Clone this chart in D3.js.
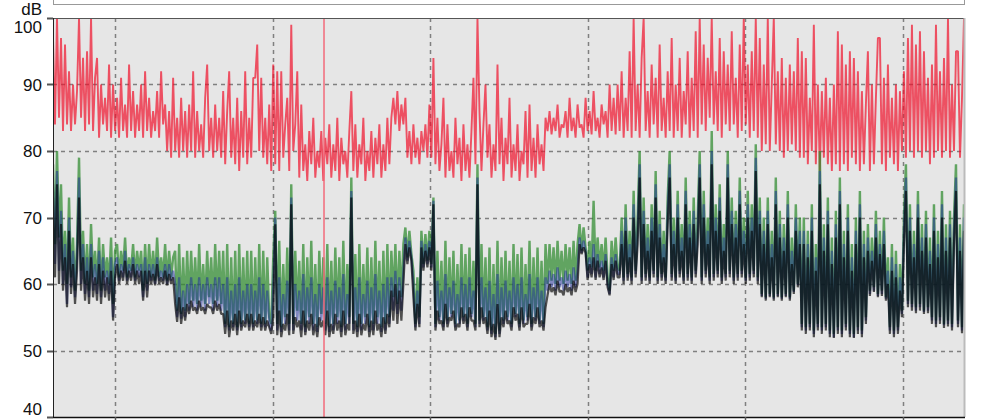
<!DOCTYPE html>
<html><head><meta charset="utf-8">
<script src="https://cdn.jsdelivr.net/npm/d3@7"></script>
<style>body{margin:0;background:#fff}svg{display:block}text{font-family:"Liberation Sans",Arial,Helvetica,sans-serif}</style>
</head><body><svg id="c" width="1000" height="420"></svg>
<script>
const yTicks=[100,90,80,70,60,50,40];
const yUnit="dB";
const hourTicks=[1,2,3,4,5,6];
const timeStart=0.6065, timeEnd=6.3867;
const cursorTime=2.326;

const maxLevel=[97,84,100,85,97,83,96,84,92,83,90,84,89,100,85,94,83,95,84,100,83,91,94,82,90,84,88,83,93,82,90,83,
88,82,91,83,87,82,93,83,89,82,87,83,90,82,92,83,88,82,86,83,89,82,92,84,87,
80,86,79,91,80,85,79,88,80,86,79,87,80,92,79,86,80,84,79,88,93,80,85,79,87,80,85,79,89,78,86,92,79,85,78,88,77,86,79,92,78,85,79,91,91,96,80,91,79,85,78,87,
77,93,78,92,77,92,79,84,88,77,99,
80,84,92,76,87,77,81,75.5,83,78,85,76,80,77.5,83,75.5,82,78,84,76,81,77,85,75.5,82,78,80,76,83,89,77,84,76,81,78,85,75.5,80,77,83,76,82,78,84,76,81,77,85,78,
85,88,84,89,83,87,84,88,
79,83,78,84,79,82,78,83,80,84,79,
87,79,94,78,85,77,81,88,76,84,77,80,76,85,78,82,75.5,84,77,81,76,83,91,78,100,86,77,84,90,79,84,76,81,77,93,78,85,75.5,82,78,88,76,81,77,84,75.5,80,78,86,76,87,77,82,76,84,78,81,77,85,
83,86,82.5,85,83,87,82,84,83.5,86,82,88,83,85,82,87,83.5,84,82,88,83,86,82.5,89,83,85,82,87,84,86,82,90,83,88,82.5,90,83,
92,82,88,83,95,82,100,83,90,82,94,100,83,89,82,93,84,91,82,96,83,88,82,92,83,97,82,90,83,94,82,89,84,95,82,91,83,98,82,100,
84,96,83,94,85,100,84,92,83,97,82,95,84,93,83,98,84,91,82,96,83,100,84,93,82,95,83,100,82,97,
80,93,81,100,80,90,100,81,92,80,94,79,91,80,93,81,92,80,97,79,
95,79,94,78,88,80,99,78,90,77,89,79,91,78,88,77,90,78,98,77,96,78,93,77,95,79,94,78,92,77,89,78,87,95,77,90,78,88,97,97,78,91,77,93,79,88,78,90,77,89,80,
92,79,97,80,99,79,96,80,98,79,95,80,91,78,93,79,99,80,92,79,94,80,100,79,90,80,95,95,79,88,100];

const l10Level=[78,66,80,67,75,
62,68,60,73,61,67,59,66,79,62,68,60,66,59,69,61,65,60,67,59,66,61,64,60,67,57,65,
66,61,65,62,67,61,64,62,66,61,65,62,
65,59,66,60,
66,61,65,60.5,67,61,64,61,66,60.5,65,61,64,
65,56,66,55.5,64,56,65,
57,65,57.5,64,57,66,57.5,63,57,65,58,64,57,66,57.5,65,57,
65,54,66,53.5,64,54,65,53.5,66,54,64,54.5,65,54,
65,54,64,54.5,66,54,65,54,64,55,
54,64,71,54,66.5,53.5,63,55,65.5,54,75,54,65,56,63.5,54,66,53.5,64,55,66.5,54,63,53.5,65,55.5,64,54,66,53.5,63.5,54,65.5,55,64,53.5,66.5,54,63,55,76,54,64.5,53.5,66,54,63,55,65.5,53.5,64,54,66.5,55,63.5,53.5,65,54,66,55,
65,58,66,57,65,58,66,68.5,64,68,64.5,62,54,61,55,68,63,67.5,63.5,68,63,73,
54,65,55,63.5,54,66.5,54.5,64,55.5,65,54,63,54.5,66,55,64.5,54,65.5,55.5,63.5,54,78,54.5,66,55,64,53.5,65.5,53,63,52.5,66.5,53,64,54.5,65,55,63.5,54,66,55.5,64.5,54,65.5,54.5,63,55,66.5,54,64,55,65.5,54.5,63.5,54,66,
60,66,60.5,65.5,60,66.5,60.5,65,60,66,60.5,65.5,60,66.5,60.5,66,
69,65,68.5,65.5,
62,66.5,62.5,72.5,62,67,62.5,66,62,67,61,59,66.5,62,67,62.5,
62,70,61,72,61.5,68,61,74,62,70,80,61,73,61.5,69,61,72,62,77,61,71,61.5,68,61,73,80,61.5,70,61,74,62,69,61,76,61.5,71,61,73,62,70,80,
61,74,62,70,61,83,61.5,72,62,75,61,69,61.5,80,62,73,61,71,61.5,76,62,70,61,74,61.5,72,62,81,61,73,
58.5,70,58,73,58.5,68,58,76,58.5,71,58,69,58.5,74,58,67,59,72,60,70,
54,70,53.5,68,54,72,53,66,54,80,53.5,69,54,73,53,67,52.5,71,53.5,76,53,68,54,72,53,66,52.5,70,53.5,74,53,68,55,
69,59,67,59.5,71,58.5,68,59,70,58,
64,53.5,66,53,65,53.5,63,56,
70,78,57.5,72,57,68,56.5,74,57,69,56,71,56.5,67,
55,72,54.5,68,55,74,54,69,54.5,71,
54,70,78,54.5,69,53.5,72];

const eqLevel=[75,63,77,62,71,
60,66,57,70,59.5,65,58,64,76,60,66,58.5,64,58,66,59,63,58.5,65,58,64,59,62,58.5,64,55,63,
64,60.5,63,61,65,60.5,63,61,64,60.5,63,61,
63,58,64,59,
63,60.5,63,60,64,60.5,62,60.5,63,60,63,60.5,62,
60,55,61,54.8,59,55,60,
56,61,56.5,60,56,61,56.5,60,56,61,57,60,56,61,56.5,61,56,
60,53.5,61,53,59,53.5,60,53,61,53.5,59,54,60,53.5,
60,53.5,59,54,61,53.5,60,53.5,59,54,
53,59.5,70,53,61,52.8,58.5,54,60.5,53,73,53,60,54.5,59,53,61.5,52.8,59.5,54,61,53,58.5,52.8,60,54.5,59.5,53,61,52.8,59,53,60.5,54,59.5,52.8,61.5,53,58.5,54,74,53,59.5,52.8,61,53,58.5,54,60.5,52.8,59.5,53,61.5,54,59,52.8,60,53,61,54,
61,56,62,55.5,61,56,62,67,63.5,66.5,64,60,53.5,59,54,66.5,62.5,66,63,66.5,62.5,72.5,
53.5,60.5,54.5,59,53.5,61.5,54,59.5,55,60.5,53.5,58.5,54,61,54.5,60,53.5,61,55,59,53.5,76,54,61,54.5,59.5,53,60.5,52.5,58.5,52,61.5,52.5,59.5,54,60.5,54.5,59,53.5,61,55,60,53.5,61,54,58.5,54.5,61.5,53.5,59.5,54.5,61,54,59,53.5,61,
59,62,59.5,61.5,59,62.5,59.5,61,59,62,59.5,61.5,59,62.5,59.5,62,
67,64.7,66.5,65,
61,64,61.5,66,61,64.5,61.5,63.5,61,64.5,60,58.5,64,61,64.5,61.5,
61.5,68,60.5,70,61,66,60.5,72,61.5,68,78,60.5,71,61,67,60.5,70,61.5,75,60.5,69,61,66,60.5,71,78,61,68,60.5,72,61.5,67,60.5,74,61,69,60.5,71,61.5,68,78,
60.5,72,61.5,68,60.5,80,61,70,61.5,73,60.5,67,61,78,61.5,71,60.5,69,61,74,61.5,68,60.5,72,61,70,61.5,79,60.5,71,
58.2,68,57.8,71,58.2,66,57.8,74,58.2,69,57.8,67,58.2,72,57.8,65,58.8,70,59.8,68,
53.5,68,53,66,53.5,70,52.5,64,53.5,77,53,67,53.5,71,52.5,65,52,69,53,74,52.5,66,53.5,70,52.5,64,52,68,53,72,52.5,66,54.5,
67,58.5,65,59,69,58.2,66,58.5,68,57.8,
62,53,64,52.5,63,53,61,55.5,
68,76,57,70,56.5,66,56,72,56.5,67,55.8,69,56,65,
54.5,70,54,66,54.5,72,53.8,67,54,69,
53.5,68,76,54,67,53,70];

const minLevel=[73,61,75,60,69,
59,64,56.5,68,58.5,63,57,62,73,59,64,57.5,62,57,64,58,61,57.5,63,57,62,58,61,57.5,62,54.5,61,
63,60,62,60.5,63.5,60,62,60.5,63,60,62,60,
62,57.5,62,58,
62,60,61.5,59.8,63,60,61,60,62,59.8,61.5,60,61,
57,54.3,58,54,56.5,54.5,57,
55.5,57.5,56,56.5,55.5,57.5,56,56.5,55.5,57,56.5,56.5,55.5,57.5,56,57,55.5,
55.5,52.5,56,52,54.5,53,55.5,52.3,56,53,54.5,53.5,55.5,53,
55.5,53,54.5,53.5,55.5,53,55,53,54.5,53.5,
52.5,55,69,52.3,56,52,54,53,55.5,52.3,72,52.5,55,53.5,54.5,52,56,52.3,54.5,53,55.5,52.3,54,52,55,53.5,54.5,52.3,56,52,54,52.5,55.5,53,54.5,52,56,52.3,54,53,73,52.5,54.5,52,55.5,52.3,54,53,55.5,52,54.5,52.3,56,53,54,52,55,52.5,55.5,53.5,
59,54.5,60,54,59,54.5,60,66,63,65.5,63.5,58,53,57,53.5,65.5,62,65,62.5,65.5,62,72,
53,56,54,54.5,53,57,53.5,55,54.5,56,53,54,53.5,56.5,54,55.5,53,56.5,54.5,54.5,53,75,53.5,56.5,54,55,52.5,56,52,54,51.6,57,52,55,53.5,56,54,54.5,53,56.5,54.5,55.5,53,56.5,53.5,54,54,57,53,55,54,56.5,53.5,54.5,53,56.5,
58.3,60,58.8,59.5,58.3,60.5,58.8,59,58.3,60,58.8,59.5,58.3,60.5,58.8,60,
66,64.5,65.5,64.7,
60.6,63,61,64,60.6,63.5,61,62.5,60.6,63.5,59.5,58.3,63,60.6,63.5,61,
61,66,60,68,60.5,64,60,70,61,66,76,60,69,60.5,65,60,68,61,73,60,67,60.5,64,60,69,76,60.5,66,60,70,61,65,60,72,60.5,67,60,69,61,66,76,
60,70,61,66,60,78,60.5,68,61,71,60,65,60.5,76,61,69,60,67,60.5,72,61,66,60,70,60.5,68,61,77,60,69,
58,66,57.5,69,58,64,57.5,72,58,67,57.5,65,58,70,57.5,63,58.5,68,59.5,66,
53,66,52.5,64,53,68,52,62,53,75,52.5,65,53,69,52,63,51.9,67,52.5,72,52,64,53,68,52,62,51.9,66,52.5,70,52,64,54,
65,58.2,63.5,58.8,67,58,64.5,58.2,66,57.5,
60,52.5,62,52,61,52.5,59,55,
66,74,56.5,68,56,64,55.6,70,56,65,55.5,67,55.6,63,
54,68,53.5,64,54,70,53.4,65,53.6,67,
53,66,74,53.5,65,52.6,68];

const seriesStyles=[
  {data:maxLevel, color:"#f0102a", opacity:0.7, width:1.9},
  {data:l10Level, color:"#2e8b2e", opacity:0.72, width:2.4},
  {data:eqLevel,  color:"#1a2a9a", opacity:0.5, width:2.3},
  {data:minLevel, color:"#000000", opacity:0.66, width:2.2}
];

const L=53, R=964, T=18, B=417;
const svg=d3.select("#c");
const x=d3.scaleLinear().domain([timeStart,timeEnd]).range([L,R]);
const y=d3.scaleLinear().domain([40,100]).range([B,T]);

svg.append("rect").attr("x",L+0.5).attr("y",-6).attr("width",R-L).attr("height",10.5)
  .attr("fill","#fff").attr("stroke","#999").attr("stroke-width",1);

svg.append("rect").attr("x",L).attr("y",T).attr("width",R-L).attr("height",B-T).attr("fill","#e6e6e6");

svg.append("g").selectAll("line").data(yTicks.filter(v=>v>40&&v<100)).join("line")
  .attr("x1",L).attr("x2",R).attr("y1",d=>Math.round(y(d))+0.5).attr("y2",d=>Math.round(y(d))+0.5)
  .attr("stroke","#808080").attr("stroke-width",1.5).attr("stroke-dasharray","4,4");
svg.append("g").selectAll("line").data(hourTicks).join("line")
  .attr("x1",d=>Math.round(x(d))+0.5).attr("x2",d=>Math.round(x(d))+0.5).attr("y1",T).attr("y2",B)
  .attr("stroke","#808080").attr("stroke-width",1.5).attr("stroke-dasharray","4,4");

svg.append("clipPath").attr("id","pc").append("rect").attr("x",L).attr("y",T).attr("width",R-L).attr("height",B-T);
const gS=svg.append("g").attr("clip-path","url(#pc)");
seriesStyles.forEach(s=>{
  const n=s.data.length;
  const line=d3.line().x((d,i)=>x(timeStart+i*(timeEnd-timeStart)/(n-1))).y(d=>y(d));
  gS.append("path").attr("d",line(s.data)).attr("fill","none")
    .attr("stroke",s.color).attr("stroke-opacity",s.opacity).attr("stroke-width",s.width)
    .attr("stroke-linejoin","bevel");
});

svg.append("line").attr("x1",x(cursorTime)).attr("x2",x(cursorTime)).attr("y1",T).attr("y2",B)
  .attr("stroke","#f26a7a").attr("stroke-width",1.5);

svg.append("line").attr("x1",L).attr("x2",R).attr("y1",T+0.5).attr("y2",T+0.5).attr("stroke","#555").attr("stroke-width",1);
svg.append("line").attr("x1",R+0.5).attr("x2",R+0.5).attr("y1",T).attr("y2",B).attr("stroke","#bbb").attr("stroke-width",2);
svg.append("line").attr("x1",L+0.5).attr("x2",L+0.5).attr("y1",T).attr("y2",B).attr("stroke","#222").attr("stroke-width",1);
svg.append("line").attr("x1",L).attr("x2",R+1).attr("y1",B+0.5).attr("y2",B+0.5).attr("stroke","#111").attr("stroke-width",1.5);

svg.append("g").selectAll("line").data(hourTicks).join("line")
  .attr("x1",d=>Math.round(x(d))+0.5).attr("x2",d=>Math.round(x(d))+0.5).attr("y1",B).attr("y2",B+6)
  .attr("stroke","#555").attr("stroke-width",1.5);

const gy=svg.append("g");
gy.selectAll("line").data(yTicks).join("line")
  .attr("x1",L-6).attr("x2",L).attr("y1",d=>Math.round(y(d))+0.5).attr("y2",d=>Math.round(y(d))+0.5)
  .attr("stroke","#555").attr("stroke-width",2);
gy.selectAll("text").data(yTicks).join("text")
  .attr("x",42).attr("y",d=>Math.min(Math.max(y(d)+6,33),415))
  .attr("text-anchor","end").attr("font-size",17).attr("fill","#111").text(d=>d);
svg.append("text").attr("x",42).attr("y",15).attr("text-anchor","end").attr("font-size",17).attr("fill","#111").text(yUnit);
</script></body></html>
